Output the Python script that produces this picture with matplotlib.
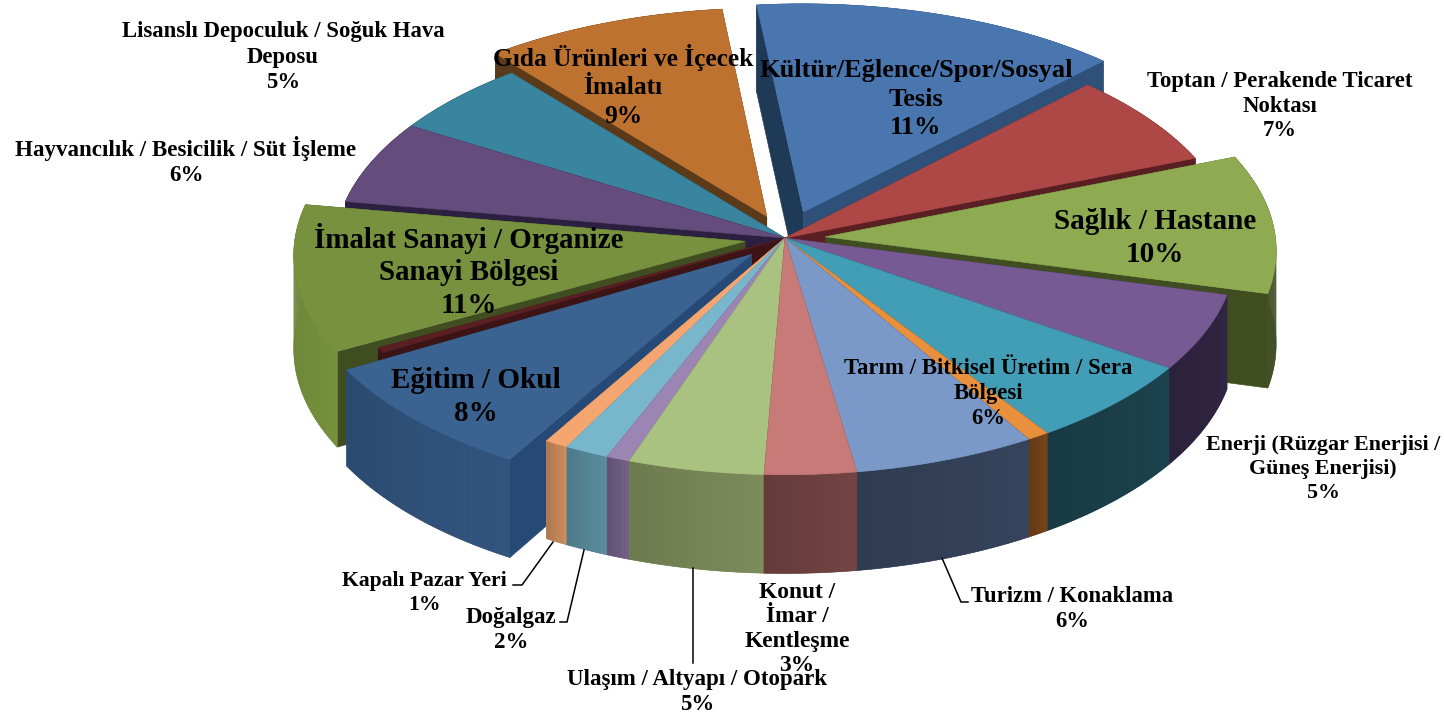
import numpy as np
import matplotlib
matplotlib.use('Agg')
import matplotlib.pyplot as plt
from matplotlib.colors import to_rgb

plt.rcParams['font.family'] = ['Liberation Serif', 'DejaVu Serif']

# slice shares as measured on the picture, clockwise from the top
names = ['Kültür', 'Toptan', 'Sağlık', 'Enerji', 'Tarım', 'İnce turuncu', 'Turizm', 'Konut',
         'Ulaşım', 'İnce mor', 'Doğalgaz', 'Kapalı Pazar', 'Eğitim', 'İnce kırmızı',
         'İmalat', 'Hayvancılık', 'Lisanslı', 'Gıda']
shares = [14.07, 6.7, 10.0, 5.5, 6.1, 0.75, 6.2, 3.1,
          4.6, 0.8, 1.5, 0.8, 8.3, 0.35,
          10.6, 6.0, 5.4, 9.23]
explode = [0.125, 0, 0.09, 0, 0, 0, 0, 0,
           0, 0, 0, 0, 0.105, 0,
           0.09, 0, 0, 0.105]
top_colors = ['#4a76b0', '#ae4846', '#8eab52', '#775a94', '#429db6', '#e8903c', '#7a99c8', '#c77a78',
              '#a9c27f', '#9a85b3', '#78b6cc', '#f5a56f', '#3a6391', '#5a1f22',
              '#78913f', '#644c7c', '#39849f', '#bd7230']
wall_colors = ['#2f5078', '#5a2523', '#46552a', '#2f2440', '#1a3f4a', '#6e3f17', '#334058', '#6d4040',
               '#768456', '#6b5a7f', '#558595', '#c08458', '#2f5078', '#3d1416',
               '#6f8a3a', '#2c2040', '#1f4a5a', '#5a3a18']
face_colors = ['#1f3a57', '#5a1f22', '#3f4d20', '#2f2440', '#1a3f4a', '#6e3f17', '#334058', '#6d4040',
               '#768456', '#6b5a7f', '#558595', '#c08458', '#264a75', '#3d1416',
               '#3f4d20', '#2c2040', '#1f4a5a', '#5a3a18']
face_end_colors = ['#2f5078'] + face_colors[1:]

labels = ['Lisanslı Depoculuk / Soğuk Hava\nDeposu\n5%',
          'Gıda Ürünleri ve İçecek\nİmalatı\n9%',
          'Kültür/Eğlence/Spor/Sosyal\nTesis\n11%',
          'Toptan / Perakende Ticaret\nNoktası\n7%',
          'Hayvancılık / Besicilik / Süt İşleme\n6%',
          'Sağlık / Hastane\n10%',
          'İmalat Sanayi / Organize\nSanayi Bölgesi\n11%',
          'Eğitim / Okul\n8%',
          'Tarım / Bitkisel Üretim / Sera\nBölgesi\n6%',
          'Enerji (Rüzgar Enerjisi /\nGüneş Enerjisi)\n5%',
          'Turizm / Konaklama\n6%',
          'Konut /\nİmar /\nKentleşme\n3%',
          'Ulaşım / Altyapı / Otopark\n5%',
          'Kapalı Pazar Yeri\n1%',
          'Doğalgaz\n2%']
label_x = [283, 623, 916, 1280, 186, 1155, 469, 476, 988, 1323, 1072, 797, 697, 424, 511]
label_y = [57, 86, 99, 106, 161, 238, 271, 397, 394, 469, 609, 629, 692, 593, 630]
label_size = [16.4, 18.3, 19, 16.4, 16.6, 21, 20.9, 21, 16.4, 15.8, 16.3, 16.9, 16.5, 15.6, 16.5]
label_gap = [1.25, 1.32, 1.33, 1.25, 1.27, 1.27, 1.26, 1.27, 1.25, 1.27, 1.27, 1.2, 1.22, 1.28, 1.27]

leaders = [([553, 522, 513], [542, 585, 585]),
           ([584, 567, 560], [550, 622, 622]),
           ([693, 693], [568, 663]),
           ([942, 961, 968], [558, 602, 602])]

# projection of the pie disc on the screen
cx, cy = 785, 238
a, b = 450, 223
p = 0.058
depth = 93
start_angle = -6.2


def project(u, v, down=0):
    w = 1 + p * v
    return cx + a * u / w, cy - b * v / w + down / w


def shade(col, f):
    return tuple(min(1, c * f) for c in to_rgb(col))


def draw_faces(i, ou, ov, u, v):
    for k, col in [(0, face_colors[i]), (-1, face_end_colors[i])]:
        x0, y0 = project(ou, ov)
        x1, y1 = project(u[k], v[k])
        x2, y2 = project(u[k], v[k], depth)
        x3, y3 = project(ou, ov, depth)
        ax.fill([x0, x1, x2, x3], [y0, y1, y2, y3], color=col, lw=0.4)


fig = plt.figure(figsize=(14.44, 7.15), dpi=100)
ax = fig.add_axes([0, 0, 1, 1])
ax.set_xlim(0, 1444)
ax.set_ylim(715, 0)
ax.axis('off')

edges = start_angle + np.cumsum([0] + shares) * 3.6
mids = np.radians((edges[:-1] + edges[1:]) / 2)
order = np.argsort(-(np.cos(mids) * (0.65 + np.array(explode))))

for i in order:
    t = np.radians(np.linspace(edges[i], edges[i + 1], max(4, int(shares[i] * 8))))
    ou = explode[i] * np.sin(mids[i])
    ov = explode[i] * np.cos(mids[i])
    u = ou + np.sin(t)
    v = ov + np.cos(t)

    # front slices show the wall over the faces, back slices the other way round
    front = np.cos(mids[i]) < 0
    if front:
        draw_faces(i, ou, ov, u, v)

    # outer wall: one flat piece, then thin strips a bit darker to the right
    xa, ya = project(u, v)
    xb, yb = project(u, v, depth)
    ax.fill(np.r_[xa, xb[::-1]], np.r_[ya, yb[::-1]], color=wall_colors[i], lw=0.4)
    for j in range(len(t) - 1):
        f = 1.06 - 0.14 * j / max(1, len(t) - 2)
        ax.fill([xa[j], xa[j + 1], xb[j + 1], xb[j]], [ya[j], ya[j + 1], yb[j + 1], yb[j]],
                color=shade(wall_colors[i], f), lw=0)

    if not front:
        draw_faces(i, ou, ov, u, v)

    # top
    xs, ys = project(np.r_[ou, u], np.r_[ov, v])
    ax.fill(xs, ys, color=top_colors[i], lw=0.4)

for lx, ly in leaders:
    ax.plot(lx, ly, color='black', lw=1.1, solid_joinstyle='miter')

for txt, x, y, s, g in zip(labels, label_x, label_y, label_size, label_gap):
    ax.text(x, y, txt, ha='center', va='center', fontsize=s, fontweight='bold',
            color='black', linespacing=g)

fig.savefig('out.png', dpi=100)
